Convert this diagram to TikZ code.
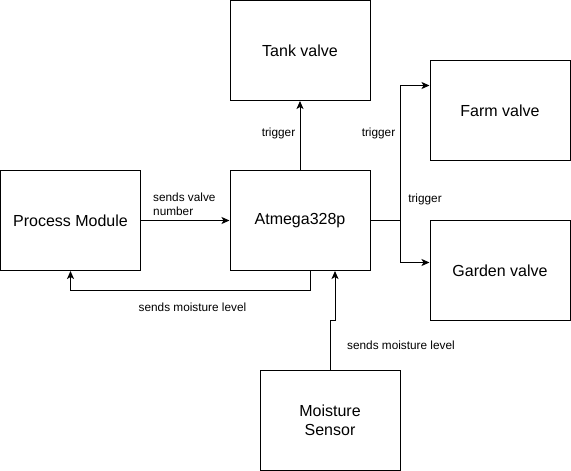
\documentclass[tikz,border=0pt]{standalone}
\usepackage{fontspec}
\setmainfont{Liberation Sans}
\usetikzlibrary{arrows.meta}
\begin{document}
\begin{tikzpicture}[x=1pt,y=-1pt,
  box/.style={draw,line width=1pt,minimum width=140pt,minimum height=100pt,inner sep=0pt,font=\fontsize{16}{19}\selectfont,align=center},
  lbl/.style={inner sep=0pt,font=\fontsize{11.8}{14}\selectfont},
  conn/.style={line width=1pt,-{Stealth[length=8pt,width=7pt,inset=2pt]}},
  plain/.style={line width=1pt}]
\useasboundingbox (0,0) rectangle (571,471);
\node[box] (tank) at (300,50.5) {Tank valve};
\node[box] (farm) at (500,110.5) {Farm valve};
\node[box] (pm) at (70.5,220.5) {Process Module};
\node[box] (atm) at (300,220.5) {Atmega328p};
\node[box] (garden) at (500,270.5) {Garden valve};
\node[box] (moist) at (330,420) {Moisture\\Sensor};
% process -> atmega
\draw[conn] (pm.east) -- (atm.west);
% atmega -> tank
\draw[conn] (atm.north) -- (tank.south);
% atmega -> farm / garden
\coordinate (j) at (400,220.5);
\draw[plain] (atm.east) -- (j);
\draw[conn] (j) |- ([yshift=25pt]farm.west);
\draw[conn] (j) |- ([yshift=8pt]garden.west);
% atmega -> process module
\coordinate (r1) at (310,290);
\draw[conn] ([xshift=10pt]atm.south) -- (r1) -| (pm.south);
% moisture -> atmega
\coordinate (m1) at (330,320);
\coordinate (m2) at (335,320);
\draw[conn] (moist.north) -- (m1) -- (m2) -- ([xshift=35pt]atm.south);
% labels
\node[lbl,anchor=west,align=left] (l1) at (153,204) {sends valve\\number};
\node[lbl] (l2) at (192.5,307) {sends moisture level};
\node[lbl] (l3) at (278.5,133) {trigger};
\node[lbl] (l4) at (378.5,133) {trigger};
\node[lbl] (l5) at (425,199) {trigger};
\node[lbl] (l6) at (401,345) {sends moisture level};
\end{tikzpicture}
\end{document}
